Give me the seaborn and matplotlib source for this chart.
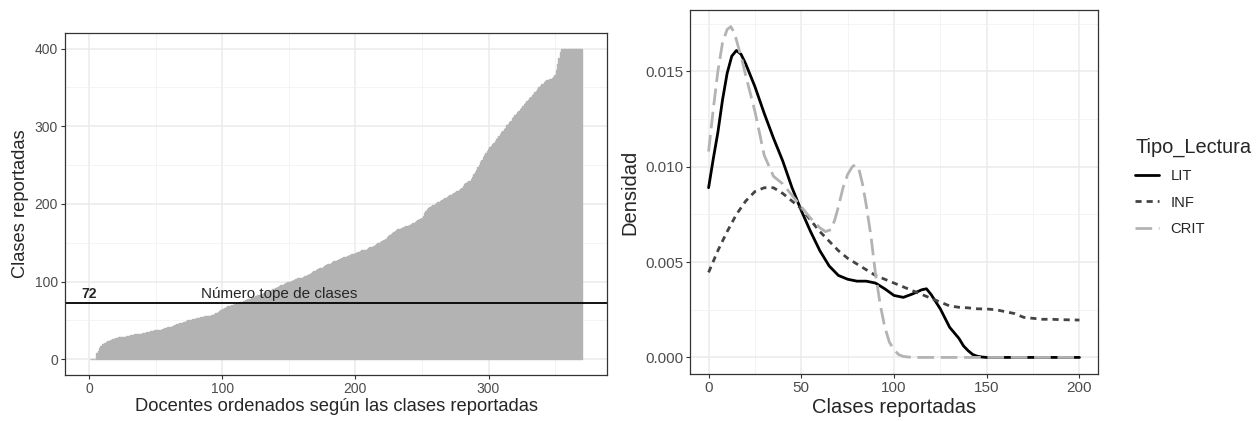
import pandas as pd
import numpy as np
import matplotlib.pyplot as plt
import seaborn as sns
from matplotlib.ticker import MultipleLocator

# clases reportadas por docente (ordenadas, una barra por docente)
clases_docente = [
    0, 0, 0, 0, 0, 8, 11, 14, 17, 19,
    20, 21, 22, 23, 24, 25, 25, 26, 26, 27,
    27, 28, 28, 28, 29, 29, 29, 30, 30, 30,
    31, 31, 31, 32, 32, 32, 33, 33, 33, 34,
    34, 34, 35, 35, 35, 36, 36, 36, 37, 37,
    37, 38, 38, 38, 39, 39, 40, 40, 41, 41,
    42, 42, 43, 44, 44, 45, 45, 46, 47, 47,
    48, 48, 49, 50, 50, 51, 51, 52, 52, 52,
    53, 53, 53, 54, 54, 54, 55, 55, 55, 56,
    56, 57, 57, 58, 59, 60, 61, 62, 63, 64,
    65, 66, 67, 68, 68, 69, 70, 70, 71, 71,
    72, 72, 73, 74, 74, 75, 75, 76, 77, 77,
    78, 79, 79, 80, 81, 81, 82, 83, 83, 84,
    85, 85, 86, 87, 88, 88, 89, 90, 91, 92,
    92, 93, 94, 95, 95, 96, 97, 98, 99, 99,
    100, 101, 101, 102, 103, 103, 104, 104, 105, 105,
    106, 107, 107, 108, 109, 110, 111, 112, 113, 114,
    115, 116, 117, 117, 118, 119, 120, 121, 122, 123,
    123, 124, 125, 126, 127, 127, 128, 129, 129, 130,
    131, 131, 132, 133, 133, 134, 135, 135, 136, 137,
    137, 138, 138, 139, 140, 140, 141, 141, 142, 143,
    144, 144, 145, 146, 147, 148, 149, 150, 151, 152,
    153, 154, 155, 157, 158, 160, 161, 163, 164, 165,
    166, 167, 168, 168, 169, 170, 170, 171, 171, 172,
    173, 174, 175, 176, 177, 178, 179, 180, 181, 182,
    185, 188, 191, 193, 195, 196, 197, 198, 199, 200,
    201, 202, 203, 204, 205, 206, 207, 208, 209, 210,
    211, 212, 213, 214, 215, 216, 217, 218, 219, 221,
    223, 225, 227, 228, 229, 230, 232, 235, 238, 241,
    244, 247, 250, 254, 257, 260, 263, 266, 268, 271,
    273, 275, 277, 279, 281, 283, 285, 288, 290, 292,
    294, 296, 298, 301, 303, 305, 307, 310, 312, 314,
    316, 318, 320, 322, 324, 326, 328, 330, 332, 334,
    336, 338, 340, 342, 344, 346, 348, 350, 352, 354,
    355, 357, 358, 359, 360, 361, 361, 362, 363, 366,
    372, 380, 388, 395, 400, 400, 400, 400, 400, 400,
    400, 400, 400, 400, 400, 400, 400, 400, 400, 400,
]
numero_tope = 72

# densidades, por tipo de lectura
x_lit = [0, 2.5, 5, 7.5, 10, 12.5, 15, 17.5, 20, 22.5, 25, 30, 35, 40, 45, 50, 55, 60, 65,
         70, 75, 80, 85, 90, 95, 100, 105, 110, 115, 117.5, 120, 125, 130, 135, 137.5,
         140, 142.5, 145, 147.5, 150, 200]
dens_lit = [0.0089, 0.0104, 0.0118, 0.0135, 0.0149, 0.0158, 0.0161, 0.0159, 0.0154, 0.0148,
            0.0142, 0.0128, 0.0115, 0.0103, 0.0089, 0.0077, 0.0066, 0.0056, 0.0048,
            0.0043, 0.0041, 0.0040, 0.0040, 0.0039, 0.0036, 0.00325, 0.00315, 0.00333,
            0.00355, 0.0036, 0.0033, 0.00254, 0.00158, 0.0010, 0.0006,
            0.00035, 0.00015, 0.00006, 0.00002, 0.0, 0.0]

x_inf = [0, 5, 10, 15, 20, 25, 30, 35, 40, 45, 50, 55, 60, 65, 70, 75, 80, 85, 90, 95, 100,
         105, 110, 115, 120, 125, 130, 135, 140, 145, 150, 155, 160, 165, 170, 175, 180,
         185, 190, 195, 200]
dens_inf = [0.00446, 0.0056, 0.0066, 0.0075, 0.0082, 0.0087, 0.0089, 0.0089, 0.0086, 0.0082,
            0.0078, 0.0072, 0.0066, 0.0061, 0.0056, 0.0052, 0.0049, 0.0046, 0.0043, 0.0041,
            0.0039, 0.0037, 0.0035, 0.0033, 0.0031, 0.0029, 0.0027, 0.00263, 0.0026, 0.00255,
            0.00254, 0.0025, 0.0024, 0.0023, 0.0021, 0.00205, 0.0020, 0.0020, 0.00198,
            0.00197, 0.00196]

x_crit = [0, 2.5, 5, 7.5, 10, 12, 14, 16, 18, 20, 25, 30, 35, 40, 45, 50, 55, 60, 63, 66,
          68, 70, 72.5, 75, 77.5, 79, 81, 83, 85, 87.5, 90, 92.5, 95, 97.5, 100, 102.5,
          105, 110, 200]
dens_crit = [0.0108, 0.0130, 0.0150, 0.0165, 0.0172, 0.01735, 0.0170, 0.0163, 0.0156, 0.0148,
             0.0129, 0.0106, 0.0095, 0.0091, 0.0085, 0.0079, 0.0073, 0.0068, 0.0066, 0.0067,
             0.0072, 0.0079, 0.0089, 0.0096, 0.0100, 0.0101, 0.0099, 0.0091, 0.0080,
             0.0064, 0.0044, 0.0028, 0.0016, 0.0008, 0.0004, 0.00015,
             0.00005, 0.0, 0.0]

tipos = ['LIT', 'INF', 'CRIT']

docentes = pd.DataFrame({'docente': np.arange(1, len(clases_docente) + 1),
                         'clases': clases_docente})
densidad = pd.concat([
    pd.DataFrame({'Clases': x_lit, 'Densidad': dens_lit, 'Tipo_Lectura': 'LIT'}),
    pd.DataFrame({'Clases': x_inf, 'Densidad': dens_inf, 'Tipo_Lectura': 'INF'}),
    pd.DataFrame({'Clases': x_crit, 'Densidad': dens_crit, 'Tipo_Lectura': 'CRIT'}),
], ignore_index=True)

sns.set_theme(style="white")
plt.rcParams['font.family'] = ['Liberation Sans', 'DejaVu Sans']

fig = plt.figure(figsize=(12.56, 4.21), dpi=100)
ax1 = fig.add_axes([0.0518, 0.110, 0.4315, 0.8115])
ax2 = fig.add_axes([0.5494, 0.1116, 0.3248, 0.8646])


def estilo_bw(ax, size):
    ax.set_axisbelow(True)
    ax.grid(which='major', color='#ebebeb', lw=1.1)
    ax.grid(which='minor', color='#f2f2f2', lw=0.6)
    for s in ax.spines.values():
        s.set_color('#333333')
        s.set_linewidth(0.9)
        s.set_visible(True)
    ax.tick_params(which='major', length=3, width=0.8, color='#333333',
                   labelcolor='#4d4d4d', labelsize=size, pad=2,
                   bottom=True, left=True)
    ax.tick_params(which='minor', length=0)


# panel izquierdo
sns.barplot(data=docentes, x='docente', y='clases', native_scale=True, width=1,
            color='#b3b3b3', saturation=1, edgecolor='#b3b3b3', linewidth=1.0,
            errorbar=None, ax=ax1)
ax1.axhline(numero_tope, color='black', lw=1.3)
ax1.text(0, 84, str(numero_tope), fontweight='bold', fontsize=10,
         ha='center', va='center')
ax1.text(143, 84, 'Número tope de clases', fontsize=11, ha='center', va='center')
ax1.set_xlim(-18, 389)
ax1.set_ylim(-20, 420)
ax1.xaxis.set_major_locator(MultipleLocator(100))
ax1.xaxis.set_minor_locator(MultipleLocator(50))
ax1.yaxis.set_major_locator(MultipleLocator(100))
ax1.yaxis.set_minor_locator(MultipleLocator(50))
estilo_bw(ax1, 10)
ax1.set_xlabel('Docentes ordenados según las clases reportadas', fontsize=13.2, labelpad=2)
ax1.set_ylabel('Clases reportadas', fontsize=13.2, labelpad=4)

# panel derecho
sns.lineplot(data=densidad, x='Clases', y='Densidad', hue='Tipo_Lectura',
             style='Tipo_Lectura', hue_order=tipos, style_order=tipos,
             palette={'LIT': '#000000', 'INF': '#444444', 'CRIT': '#b3b3b3'},
             dashes={'LIT': '', 'INF': (2.2, 1.8), 'CRIT': (6, 2.4)},
             linewidth=2, sort=False, estimator=None, ax=ax2)
ax2.set_xlim(-10, 210)
ax2.set_ylim(-0.00087, 0.01822)
ax2.xaxis.set_major_locator(MultipleLocator(50))
ax2.xaxis.set_minor_locator(MultipleLocator(25))
ax2.yaxis.set_major_locator(MultipleLocator(0.005))
ax2.yaxis.set_minor_locator(MultipleLocator(0.0025))
ax2.yaxis.set_major_formatter(plt.FormatStrFormatter('%.3f'))
estilo_bw(ax2, 11)
ax2.set_xlabel('Clases reportadas', fontsize=14.5, labelpad=2)
ax2.set_ylabel('Densidad', fontsize=14.5, labelpad=4)

h, l = ax2.get_legend_handles_labels()
ax2.get_legend().remove()
fig.legend(h, l, title='Tipo_Lectura', loc='upper left',
           bbox_to_anchor=(1128 / 1256, 1 - 130 / 421), frameon=False,
           fontsize=10.6, title_fontsize=14.4, handlelength=1.6,
           labelspacing=0.85, borderpad=0, alignment='left', handletextpad=0.8)

plt.savefig('out.png', dpi=100)
